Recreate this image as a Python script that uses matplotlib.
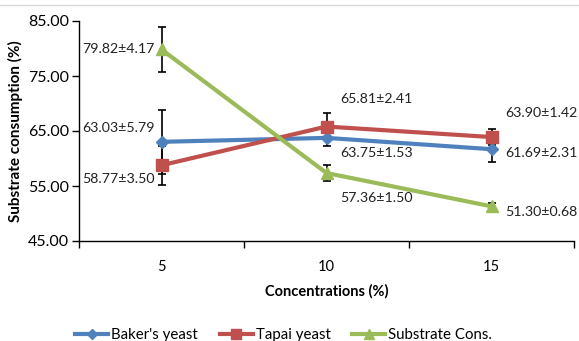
import matplotlib
matplotlib.use("Agg")
import matplotlib.pyplot as plt
from matplotlib.lines import Line2D

plt.rcParams['font.family'] = ['Lato', 'DejaVu Sans']

categories = ["5", "10", "15"]
series_names = ["Baker's yeast", "Tapai yeast", "Substrate Cons."]
bakers = [63.03, 63.75, 61.69]
bakers_err = [5.79, 1.53, 2.31]
tapai = [58.77, 65.81, 63.90]
tapai_err = [3.50, 2.41, 1.42]
substrate = [79.82, 57.36, 51.30]
substrate_err = [4.17, 1.50, 0.68]
y_ticks = [45, 55, 65, 75, 85]

colors = ["#4F81BD", "#C0504D", "#9BBB59"]
markers = ["D", "s", "^"]
msizes = [6, 9, 9]

fig = plt.figure(figsize=(5.79, 3.41), dpi=100)
ax = fig.add_axes([79 / 579, 1 - 241 / 341, (574 - 79) / 579, 220 / 341])

x = list(range(len(categories)))
for vals, errs, name, c, m, ms in zip([bakers, tapai, substrate],
                                      [bakers_err, tapai_err, substrate_err],
                                      series_names, colors, markers, msizes):
    ax.errorbar(x, vals, yerr=errs, color=c, lw=3, marker=m, ms=ms,
                ecolor="black", elinewidth=1.2, capsize=3, capthick=1.2,
                zorder=3)

# value labels (offsets in points)
def lab(i, vals, errs, dx, dy, ha):
    ax.annotate(f"{vals[i]:.2f}±{errs[i]:.2f}", (x[i], vals[i]),
                xytext=(dx, dy), textcoords="offset points",
                ha=ha, va="center", fontsize=10.2, color="#222222")

lab(0, substrate, substrate_err, -5, 0, "right")
lab(0, bakers, bakers_err, -5, 10, "right")
lab(0, tapai, tapai_err, -5, -10, "right")
lab(1, tapai, tapai_err, 10, 20, "left")
lab(1, bakers, bakers_err, 10, -11, "left")
lab(1, substrate, substrate_err, 10, -18, "left")
lab(2, tapai, tapai_err, 10, 17, "left")
lab(2, bakers, bakers_err, 10, -3, "left")
lab(2, substrate, substrate_err, 10, -4, "left")

ax.set_xlim(-0.5, 2.5)
ax.set_ylim(45, 85)
ax.set_yticks(y_ticks)
ax.set_yticklabels([f"{v:.2f}" for v in y_ticks])
ax.set_xticks(x)
ax.set_xticklabels(categories)
ax.set_xticks([-0.5, 0.5, 1.5, 2.5], minor=True)
ax.tick_params(axis="x", which="major", length=0, pad=14, labelsize=10.5)
ax.tick_params(axis="x", which="minor", length=5, width=1, direction="out")
ax.tick_params(axis="y", length=5, width=1, direction="out", labelsize=11.5, pad=2)
for s in ["top", "right"]:
    ax.spines[s].set_visible(False)
for s in ["left", "bottom"]:
    ax.spines[s].set_linewidth(1)

ax.set_ylabel("Substrate consumption (%)", fontsize=11, fontweight="bold", labelpad=4)
ax.set_xlabel("Concentrations (%)", fontsize=10.5, fontweight="bold", labelpad=7)

fig.add_artist(Line2D([0, 1], [1 - 5 / 341, 1 - 5 / 341], color="#D9D9D9", lw=1))

handles = [Line2D([], [], color=c, lw=3, marker=m, ms=ms * 0.85)
           for c, m, ms in zip(colors, markers, msizes)]
fig.legend(handles, series_names, loc="center", bbox_to_anchor=(0.49, 1 - 335 / 341),
           ncol=3, frameon=False, fontsize=10.8, handlelength=2.2,
           columnspacing=1.45, handletextpad=0.2)

fig.savefig("out.png", dpi=100)
